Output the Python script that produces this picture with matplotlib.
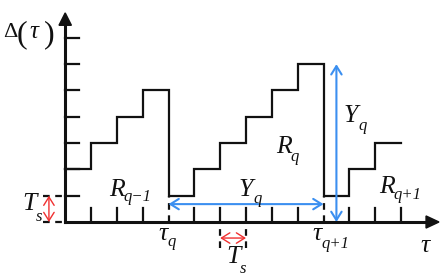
import matplotlib
matplotlib.use("Agg")
import matplotlib.pyplot as plt
from matplotlib.patches import FancyArrowPatch, Polygon

plt.rcParams['font.family'] = ['Liberation Serif', 'DejaVu Serif']

# staircase data (time in units of T_s, age in units of T_s)
step_edges = [0, 1, 2, 3, 4, 5, 6, 7, 8, 9, 10, 11, 12, 13]
step_levels = [2, 3, 4, 5, 1, 2, 3, 4, 5, 6, 1, 2, 3]
x_ticks = [1, 2, 3, 5, 6, 7, 8, 9, 11, 12, 13]
y_ticks = [1, 2, 3, 4, 5, 6, 7]
tau_q, tau_q1 = 4, 10
Ts_below = (6, 7)

BLACK = '#111111'
BLUE = '#3b8ff0'
RED = '#f03030'

X0, XU = 65.2, 25.83    # pixel of x=0, pixels per unit
Y0, YU = 222.0, 26.3
W, H = 444, 277

fig = plt.figure(figsize=(W / 100, H / 100), dpi=100)
ax = fig.add_axes([0, 0, 1, 1])
ax.set_xlim(-X0 / XU, (W - X0) / XU)
ax.set_ylim((Y0 - H) / YU, Y0 / YU)
ax.axis('off')
renderer = fig.canvas.get_renderer()

def P(px, py):
    return (px - X0) / XU, (Y0 - py) / YU

# staircase
xs, ys = [], []
for i, lv in enumerate(step_levels):
    x0, x1 = step_edges[i], step_edges[i + 1]
    xs += [x0, x1]
    ys += [lv, lv]
ax.plot(xs, ys, color=BLACK, lw=1.6, solid_joinstyle='miter', zorder=3)

# axes
ax.plot([0, 0], [0, 7.5], color=BLACK, lw=2.2, zorder=4)
ax.plot([0, 14.0], [0, 0], color=BLACK, lw=2.2, zorder=4)
ax.add_patch(Polygon([[-0.24, 7.48], [0.24, 7.48], [0, 7.95]], closed=True,
                     color=BLACK, zorder=5))
ax.add_patch(Polygon([[13.97, -0.23], [13.97, 0.23], [14.47, 0]], closed=True,
                     color=BLACK, zorder=5))

# ticks
for yt in y_ticks:
    ax.plot([0, 0.53], [yt, yt], color=BLACK, lw=1.6, zorder=4)
for xt in x_ticks:
    ax.plot([xt, xt], [0, 0.53], color=BLACK, lw=1.6, zorder=4)

# dashed helpers
dash = dict(color=BLACK, lw=1.6, ls=(0, (3, 2.5)), zorder=3)
ax.plot([-0.86, 0], [1, 1], **dash)
ax.plot([-0.86, 0], [0, 0], **dash)
ax.plot([tau_q, tau_q], [0, 1], **dash)
ax.plot([tau_q1, tau_q1], [0, 1], **dash)
ax.plot([Ts_below[0]] * 2, [-1.0, 0], **dash)
ax.plot([Ts_below[1]] * 2, [-1.0, 0], **dash)

def darrow(p0, p1, color, lw):
    a = FancyArrowPatch(p0, p1, arrowstyle='<->,head_length=4,head_width=2.5',
                        color=color, lw=lw, shrinkA=0, shrinkB=0, zorder=6,
                        mutation_scale=1.5)
    ax.add_patch(a)

darrow((-0.63, 0.0), (-0.63, 1.0), RED, 1.0)
darrow((Ts_below[0], -0.61), (Ts_below[1], -0.61), RED, 1.0)
darrow((tau_q, 0.68), (tau_q1, 0.68), BLUE, 1.5)
darrow((10.5, 0.0), (10.5, 6.0), BLUE, 1.5)

FS, SFS = 18.5, 12

def txt(px, py, s, size, italic=True):
    x, y = P(px, py)
    return ax.text(x, y, s, fontsize=size, ha='left', va='baseline',
                   style='italic' if italic else 'normal', color=BLACK, zorder=7)

def label(mx, my, main, drop, sub, gap=0.0):
    t = txt(mx, my, main, FS)
    bb = t.get_window_extent(renderer=renderer)
    right_px = bb.x1  # display px from left
    txt(right_px + gap, my + drop, sub, SFS)

# Delta(tau)
txt(3, 37, '\u0394', 16, italic=False)
txt(17, 42, '(', 23, italic=False)
txt(29, 38, '\u03c4', 18)
txt(44, 42, ')', 23, italic=False)

label(109, 196, 'R', 5, 'q\u22121', -1)
label(276, 153, 'R', 8, 'q', -1)
label(379, 193, 'R', 6, 'q+1', -1)
label(239, 196, 'Y', 7, 'q', 0)
label(344, 122, 'Y', 8, 'q', 0)
label(22, 210, 'T', 11, 's', -1)
label(226, 263, 'T', 10, 's', -1)
label(158, 240, '\u03c4', 6, 'q', 0)
label(312, 240, '\u03c4', 8, 'q+1', 0)
txt(420, 252, '\u03c4', FS)

fig.savefig('out.png', dpi=100)
